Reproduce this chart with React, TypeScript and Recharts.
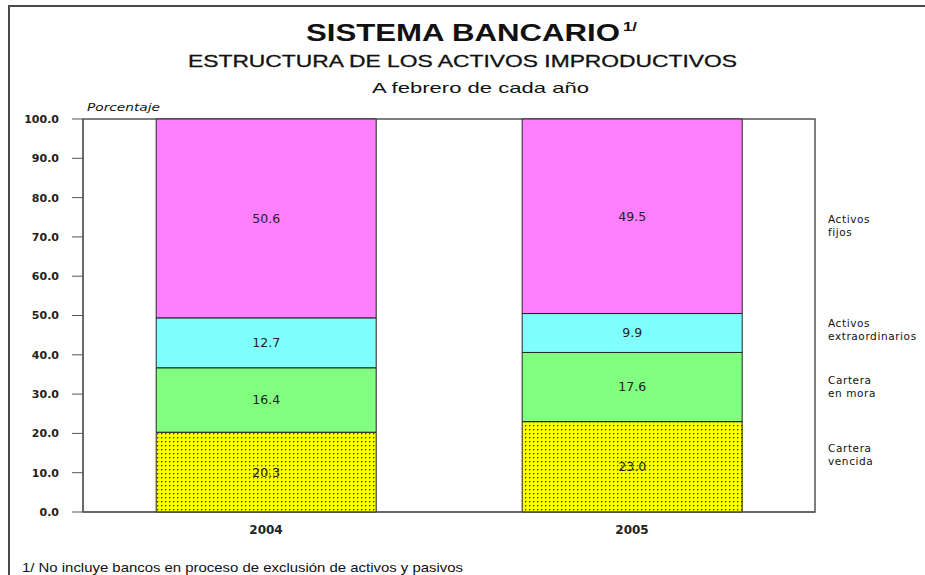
import React from "react";
import {
  BarChart,
  Bar,
  XAxis,
  YAxis,
  ReferenceArea,
  LabelList,
} from "recharts";

const years = ["2004", "2005"];
const carteraVencida = [20.3, 23.0];
const carteraEnMora = [16.4, 17.6];
const activosExtraordinarios = [12.7, 9.9];
const activosFijos = [50.6, 49.5];
const yTicks = [0, 10, 20, 30, 40, 50, 60, 70, 80, 90, 100];

const seriesNames = [
  ["Activos", "fijos"],
  ["Activos", "extraordinarios"],
  ["Cartera", "en mora"],
  ["Cartera", "vencida"],
];

const data = years.map((y, i) => ({
  year: y,
  vencida: carteraVencida[i],
  mora: carteraEnMora[i],
  extra: activosExtraordinarios[i],
  fijos: activosFijos[i],
}));

const SMALL = "'DejaVu Sans', Verdana, sans-serif";
const ARIAL = "'Liberation Sans', Arial, sans-serif";

const fmt = (v: any) => Number(v).toFixed(1);

const labelStyle = { fontFamily: SMALL, fontSize: 12.5, fill: "#222" };

// anchor y (px) of the two-line legend labels on the right
const legendY = [219, 323, 380, 448];

export default function App() {
  return (
    <div
      style={{
        position: "fixed",
        left: 0,
        top: 0,
        width: 925,
        height: 575,
        overflow: "hidden",
        background: "#fff",
      }}
    >
      <div style={{ position: "absolute", left: 0, top: 0, width: 925, height: 575 }}>
        <BarChart
          width={925}
          height={575}
          data={data}
          margin={{ top: 119, right: 110, bottom: 33, left: 0 }}
          barCategoryGap="20%"
        >
          <defs>
            <pattern
              id="dots"
              width="4"
              height="4"
              patternUnits="userSpaceOnUse"
            >
              <rect width="4" height="4" fill="#ffff00" />
              <rect x="1" y="1" width="1" height="1" fill="#3838d0" />
              <rect x="2" y="1" width="1" height="1" fill="#9c9c70" />
              <rect x="1" y="2" width="1" height="1" fill="#9c9c70" />
            </pattern>
          </defs>
          <XAxis
            dataKey="year"
            tickLine={false}
            tickSize={0}
            tickMargin={13}
            axisLine={{ stroke: "#555" }}
            height={30}
            tick={{
              fontFamily: SMALL,
              fontSize: 12,
              fontWeight: "bold",
              fill: "#222",
            }}
          />
          <YAxis
            domain={[0, 100]}
            ticks={yTicks}
            width={83}
            tickSize={11}
            tickMargin={13}
            tickFormatter={fmt}
            interval={0}
            axisLine={{ stroke: "#555" }}
            tickLine={{ stroke: "#555" }}
            tick={{
              fontFamily: SMALL,
              fontSize: 11,
              fontWeight: "bold",
              fill: "#222",
            }}
          />
          <Bar
            dataKey="vencida"
            stackId="a"
            fill="url(#dots)"
            stroke="#222"
            strokeWidth={1}
            isAnimationActive={false}
          >
            <LabelList dataKey="vencida" position="center" formatter={fmt} style={labelStyle} />
          </Bar>
          <Bar
            dataKey="mora"
            stackId="a"
            fill="#80ff80"
            stroke="#222"
            strokeWidth={1}
            isAnimationActive={false}
          >
            <LabelList dataKey="mora" position="center" formatter={fmt} style={labelStyle} />
          </Bar>
          <Bar
            dataKey="extra"
            stackId="a"
            fill="#80ffff"
            stroke="#222"
            strokeWidth={1}
            isAnimationActive={false}
          >
            <LabelList dataKey="extra" position="center" formatter={fmt} style={labelStyle} />
          </Bar>
          <Bar
            dataKey="fijos"
            stackId="a"
            fill="#ff80ff"
            stroke="#222"
            strokeWidth={1}
            isAnimationActive={false}
          >
            <LabelList dataKey="fijos" position="center" formatter={fmt} style={labelStyle} />
          </Bar>
          <ReferenceArea
            y1={0}
            y2={100}
            fill="none"
            fillOpacity={0}
            stroke="#555"
            strokeWidth={1.5}
            ifOverflow="visible"
          />
        </BarChart>
      </div>
      <svg
        width={925}
        height={575}
        style={{ position: "absolute", left: 0, top: 0, pointerEvents: "none" }}
      >
        <line x1={8} y1={6} x2={925} y2={6} stroke="#4a4a4a" strokeWidth={2} />
        <line x1={9} y1={5} x2={9} y2={575} stroke="#4a4a4a" strokeWidth={2} />
        <text
          x={306}
          y={41}
          fontFamily={ARIAL}
          fontWeight="bold"
          fontSize={24}
          fill="#111"
          textLength={314}
          lengthAdjust="spacingAndGlyphs"
        >
          SISTEMA BANCARIO
        </text>
        <text
          x={623}
          y={31}
          fontFamily={ARIAL}
          fontWeight="bold"
          fontSize={13}
          fill="#111"
          textLength={14}
          lengthAdjust="spacingAndGlyphs"
        >
          1/
        </text>
        <text
          x={188}
          y={67}
          fontFamily={ARIAL}
          fontSize={17}
          fill="#111"
          stroke="#111"
          strokeWidth={0.3}
          textLength={549}
          lengthAdjust="spacingAndGlyphs"
        >
          ESTRUCTURA DE LOS ACTIVOS IMPRODUCTIVOS
        </text>
        <text
          x={372}
          y={93}
          fontFamily={ARIAL}
          fontSize={15}
          fill="#111"
          textLength={217}
          lengthAdjust="spacingAndGlyphs"
        >
          A febrero de cada año
        </text>
        <text
          x={87}
          y={111}
          fontFamily={SMALL}
          fontStyle="italic"
          fontSize={11}
          fill="#111"
          textLength={73}
          lengthAdjust="spacingAndGlyphs"
        >
          Porcentaje
        </text>
        {seriesNames.map((lines, i) => (
          <text
            key={i}
            x={828}
            y={legendY[i] + 4}
            fontFamily={SMALL}
            fontSize={10.5}
            letterSpacing={0.6}
            fill="#111"
          >
            <tspan x={828}>{lines[0]}</tspan>
            <tspan x={828} dy={13}>
              {lines[1]}
            </tspan>
          </text>
        ))}
        <text
          x={22}
          y={572}
          fontFamily={ARIAL}
          fontSize={13}
          fill="#111"
          textLength={441}
          lengthAdjust="spacingAndGlyphs"
        >
          1/ No incluye bancos en proceso de exclusión de activos y pasivos
        </text>
      </svg>
    </div>
  );
}
